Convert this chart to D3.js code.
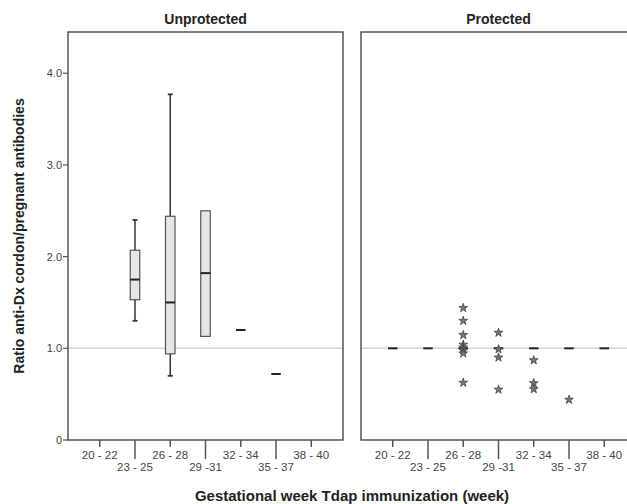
<!DOCTYPE html>
<html>
<head>
<meta charset="utf-8">
<script src="https://cdn.jsdelivr.net/npm/d3@7"></script>
<style>
body { margin: 0; background: #fff; }
svg { display: block; font-family: "Liberation Sans", Arial, sans-serif; }
</style>
</head>
<body>
<svg id="chart" width="627" height="504"></svg>
<script>
// gestational week groups (x categories)
var weeks = ["20 - 22", "23 - 25", "26 - 28", "29 -31", "32 - 34", "35 - 37", "38 - 40"];
var yTicks = [0, 1, 2, 3, 4];
var refLine = 1.0;

// Unprotected: box plot summaries per group
var boxWeeks = ["23 - 25", "26 - 28", "29 -31", "32 - 34", "35 - 37"];
var boxLow   = [1.30, 0.70, 1.13, 1.20, 0.72];
var boxQ1    = [1.53, 0.94, 1.13, 1.20, 0.72];
var boxMed   = [1.75, 1.50, 1.82, 1.20, 0.72];
var boxQ3    = [2.07, 2.44, 2.50, 1.20, 0.72];
var boxHigh  = [2.40, 3.77, 2.50, 1.20, 0.72];

// Protected: medians (all at 1.0) and extreme values
var protWeeks = ["20 - 22", "23 - 25", "26 - 28", "29 -31", "32 - 34", "35 - 37", "38 - 40"];
var protMed   = [1.0, 1.0, 1.0, 1.0, 1.0, 1.0, 1.0];
var starWeeks = ["26 - 28", "26 - 28", "26 - 28", "26 - 28", "26 - 28", "26 - 28", "26 - 28", "26 - 28",
                 "29 -31", "29 -31", "29 -31", "29 -31",
                 "32 - 34", "32 - 34", "32 - 34",
                 "35 - 37"];
var starVals  = [1.44, 1.30, 1.145, 1.04, 1.01, 0.98, 0.945, 0.625,
                 1.17, 0.99, 0.90, 0.55,
                 0.87, 0.62, 0.555,
                 0.44];

var svg = d3.select("#chart");
var plotTop = 32, plotBottom = 440, panelW = 275;
var panels = [
    { title: "Unprotected", x0: 68 },
    { title: "Protected", x0: 361 }
];

var y = d3.scaleLinear().domain([0, 4.45]).range([plotBottom, plotTop]);

var frameColor = "#555";
var boxW = 9.5;

panels.forEach(function(p, pi) {
    var x = d3.scalePoint().domain(weeks).range([p.x0, p.x0 + panelW]).padding(0.9);
    var g = svg.append("g");

    // reference line at 1.0
    g.append("line")
        .attr("x1", p.x0).attr("x2", p.x0 + panelW)
        .attr("y1", y(refLine)).attr("y2", y(refLine))
        .attr("stroke", "#d4d4d4").attr("stroke-width", 1.5);

    // frame
    g.append("rect")
        .attr("x", p.x0).attr("y", plotTop)
        .attr("width", panelW).attr("height", plotBottom - plotTop)
        .attr("fill", "none").attr("stroke", frameColor).attr("stroke-width", 1.5);

    // title
    g.append("text")
        .attr("x", p.x0 + panelW / 2).attr("y", 24)
        .attr("text-anchor", "middle")
        .attr("font-size", 14).attr("font-weight", "bold").attr("fill", "#222")
        .text(p.title);

    // y axis only on left panel
    if (pi === 0) {
        var ya = g.append("g");
        ya.selectAll("line").data(yTicks).enter().append("line")
            .attr("x1", p.x0 - 5).attr("x2", p.x0)
            .attr("y1", function(d) { return y(d); })
            .attr("y2", function(d) { return y(d); })
            .attr("stroke", frameColor).attr("stroke-width", 1.2);
        ya.selectAll("text").data(yTicks).enter().append("text")
            .attr("x", p.x0 - 6)
            .attr("y", function(d) { return y(d) + 4; })
            .attr("text-anchor", "end")
            .attr("font-size", 11).attr("fill", "#444")
            .text(function(d) { return d === 0 ? "0" : d3.format(".1f")(d); });
    }

    // x axis ticks, staggered labels
    var xa = g.append("g");
    xa.selectAll("line").data(weeks).enter().append("line")
        .attr("x1", function(d) { return x(d); })
        .attr("x2", function(d) { return x(d); })
        .attr("y1", plotBottom)
        .attr("y2", function(d, i) { return i % 2 ? plotBottom + 19 : plotBottom + 7; })
        .attr("stroke", frameColor).attr("stroke-width", 1.5);
    xa.selectAll("text").data(weeks).enter().append("text")
        .attr("x", function(d) { return x(d); })
        .attr("y", function(d, i) { return i % 2 ? plotBottom + 31 : plotBottom + 18.5; })
        .attr("text-anchor", "middle")
        .attr("font-size", 11.5).attr("fill", "#444")
        .text(function(d) { return d; });

    if (pi === 0) {
        var boxes = boxWeeks.map(function(w, i) {
            return { w: w, low: boxLow[i], q1: boxQ1[i], med: boxMed[i], q3: boxQ3[i], high: boxHigh[i] };
        });
        var bg = g.selectAll("g.box").data(boxes).enter().append("g").attr("class", "box");
        // whiskers
        bg.filter(function(d) { return d.high > d.q3; }).append("line")
            .attr("x1", function(d) { return x(d.w); }).attr("x2", function(d) { return x(d.w); })
            .attr("y1", function(d) { return y(d.q3); }).attr("y2", function(d) { return y(d.high); })
            .attr("stroke", "#333").attr("stroke-width", 1.5);
        bg.filter(function(d) { return d.low < d.q1; }).append("line")
            .attr("x1", function(d) { return x(d.w); }).attr("x2", function(d) { return x(d.w); })
            .attr("y1", function(d) { return y(d.q1); }).attr("y2", function(d) { return y(d.low); })
            .attr("stroke", "#333").attr("stroke-width", 1.5);
        // caps
        bg.filter(function(d) { return d.high > d.q3; }).append("line")
            .attr("x1", function(d) { return x(d.w) - 2.5; }).attr("x2", function(d) { return x(d.w) + 2.5; })
            .attr("y1", function(d) { return y(d.high); }).attr("y2", function(d) { return y(d.high); })
            .attr("stroke", "#333").attr("stroke-width", 1.8);
        bg.filter(function(d) { return d.low < d.q1; }).append("line")
            .attr("x1", function(d) { return x(d.w) - 2.5; }).attr("x2", function(d) { return x(d.w) + 2.5; })
            .attr("y1", function(d) { return y(d.low); }).attr("y2", function(d) { return y(d.low); })
            .attr("stroke", "#333").attr("stroke-width", 1.8);
        // box
        bg.filter(function(d) { return d.q3 > d.q1; }).append("rect")
            .attr("x", function(d) { return x(d.w) - boxW / 2; })
            .attr("width", boxW)
            .attr("y", function(d) { return y(d.q3); })
            .attr("height", function(d) { return y(d.q1) - y(d.q3); })
            .attr("fill", "#e6e6e6").attr("stroke", "#555").attr("stroke-width", 1.2);
        // median
        bg.append("line")
            .attr("x1", function(d) { return x(d.w) - boxW / 2; })
            .attr("x2", function(d) { return x(d.w) + boxW / 2; })
            .attr("y1", function(d) { return y(d.med); }).attr("y2", function(d) { return y(d.med); })
            .attr("stroke", "#222").attr("stroke-width", 2);
    } else {
        g.selectAll("line.med").data(protWeeks).enter().append("line")
            .attr("class", "med")
            .attr("x1", function(d) { return x(d) - boxW / 2; })
            .attr("x2", function(d) { return x(d) + boxW / 2; })
            .attr("y1", function(d, i) { return y(protMed[i]); })
            .attr("y2", function(d, i) { return y(protMed[i]); })
            .attr("stroke", "#222").attr("stroke-width", 2);
        var star = d3.symbol().type(d3.symbolStar).size(24);
        g.selectAll("path.star").data(starWeeks).enter().append("path")
            .attr("class", "star")
            .attr("d", star)
            .attr("transform", function(d, i) { return "translate(" + x(d) + "," + y(starVals[i]) + ")"; })
            .attr("fill", "#777").attr("stroke", "#333").attr("stroke-width", 0.7);
    }
});

// axis titles
svg.append("text")
    .attr("transform", "translate(24," + ((plotTop + plotBottom) / 2) + ") rotate(-90)")
    .attr("text-anchor", "middle")
    .attr("font-size", 14).attr("font-weight", "bold").attr("fill", "#222")
    .text("Ratio anti-Dx cordon/pregnant antibodies");

svg.append("text")
    .attr("x", 352).attr("y", 501)
    .attr("text-anchor", "middle")
    .attr("font-size", 15).attr("font-weight", "bold").attr("fill", "#222")
    .text("Gestational week Tdap immunization (week)");
</script>
</body>
</html>
